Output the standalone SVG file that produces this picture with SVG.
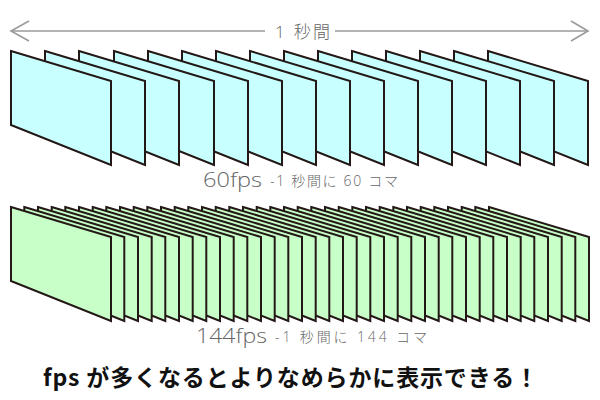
<svg xmlns="http://www.w3.org/2000/svg" xmlns:xlink="http://www.w3.org/1999/xlink" width="600" height="400" viewBox="0 0 600 400">
<style>
.arr{stroke:#9a9a9a;stroke-width:1.6;fill:none}
.ft{stroke:#231815;stroke-width:2;stroke-linejoin:miter}
.cy{fill:#c8ffff}
.gr{fill:#c8ffc8}
.lbl{font-family:"Open Sans","Noto Sans CJK JP",sans-serif;font-weight:300;fill:#666}
.big{font-family:"Open Sans","Liberation Sans",sans-serif;font-weight:300;fill:#666;font-size:20px}
.main{font-family:"Noto Sans CJK JP","Liberation Sans",sans-serif;font-weight:bold;font-size:23px;fill:#111}
</style>
<defs>
<polygon id="fr" points="0,0 100,30 100,114 0,74"/>
</defs>
<rect width="600" height="400" fill="#fff"/>
<g id="timeline">
<line class="arr" x1="11" y1="31" x2="265" y2="31"/>
<line class="arr" x1="335" y1="31" x2="588" y2="31"/>
<polyline class="arr" points="29,21 11,31 29,41"/>
<polyline class="arr" points="571,21 588,31 571,41"/>
<text class="lbl" x="275" y="38" font-size="17" textLength="55" lengthAdjust="spacing">1 秒間</text>
</g>
<g id="frames60" class="ft cy">
<use xlink:href="#fr" x="488" y="51"/>
<use xlink:href="#fr" x="454" y="51"/>
<use xlink:href="#fr" x="420" y="51"/>
<use xlink:href="#fr" x="386" y="51"/>
<use xlink:href="#fr" x="352" y="51"/>
<use xlink:href="#fr" x="318" y="51"/>
<use xlink:href="#fr" x="284" y="51"/>
<use xlink:href="#fr" x="250" y="51"/>
<use xlink:href="#fr" x="216" y="51"/>
<use xlink:href="#fr" x="182" y="51"/>
<use xlink:href="#fr" x="148" y="51"/>
<use xlink:href="#fr" x="114" y="51"/>
<use xlink:href="#fr" x="79" y="51"/>
<use xlink:href="#fr" x="45" y="51"/>
<use xlink:href="#fr" x="11" y="51"/>
</g>
<g id="label60">
<text class="big" x="203" y="187" textLength="59" lengthAdjust="spacingAndGlyphs">60fps</text>
<text class="lbl" x="270" y="186" font-size="14" textLength="128" lengthAdjust="spacing">-1 秒間に 60 コマ</text>
</g>
<g id="frames144" class="ft gr">
<use xlink:href="#fr" x="489" y="207"/>
<use xlink:href="#fr" x="475.3" y="207"/>
<use xlink:href="#fr" x="461.7" y="207"/>
<use xlink:href="#fr" x="448" y="207"/>
<use xlink:href="#fr" x="434.3" y="207"/>
<use xlink:href="#fr" x="420.7" y="207"/>
<use xlink:href="#fr" x="407" y="207"/>
<use xlink:href="#fr" x="393.3" y="207"/>
<use xlink:href="#fr" x="379.7" y="207"/>
<use xlink:href="#fr" x="366" y="207"/>
<use xlink:href="#fr" x="352.3" y="207"/>
<use xlink:href="#fr" x="338.7" y="207"/>
<use xlink:href="#fr" x="325" y="207"/>
<use xlink:href="#fr" x="311.3" y="207"/>
<use xlink:href="#fr" x="297.7" y="207"/>
<use xlink:href="#fr" x="284" y="207"/>
<use xlink:href="#fr" x="270.3" y="207"/>
<use xlink:href="#fr" x="256.7" y="207"/>
<use xlink:href="#fr" x="243" y="207"/>
<use xlink:href="#fr" x="229.3" y="207"/>
<use xlink:href="#fr" x="215.7" y="207"/>
<use xlink:href="#fr" x="202" y="207"/>
<use xlink:href="#fr" x="188.3" y="207"/>
<use xlink:href="#fr" x="174.7" y="207"/>
<use xlink:href="#fr" x="161" y="207"/>
<use xlink:href="#fr" x="147.3" y="207"/>
<use xlink:href="#fr" x="133.7" y="207"/>
<use xlink:href="#fr" x="120" y="207"/>
<use xlink:href="#fr" x="106.3" y="207"/>
<use xlink:href="#fr" x="92.7" y="207"/>
<use xlink:href="#fr" x="79" y="207"/>
<use xlink:href="#fr" x="65.3" y="207"/>
<use xlink:href="#fr" x="51.7" y="207"/>
<use xlink:href="#fr" x="38" y="207"/>
<use xlink:href="#fr" x="24.3" y="207"/>
<use xlink:href="#fr" x="11" y="207"/>
</g>
<g id="label144">
<text class="big" x="196" y="343" textLength="71" lengthAdjust="spacingAndGlyphs">144fps</text>
<text class="lbl" x="275" y="342" font-size="14" textLength="152" lengthAdjust="spacing">-1 秒間に 144 コマ</text>
</g>
<g id="caption">
<text class="main" x="43" y="386" textLength="495" lengthAdjust="spacing">fps が多くなるとよりなめらかに表示できる！</text>
</g>
</svg>
